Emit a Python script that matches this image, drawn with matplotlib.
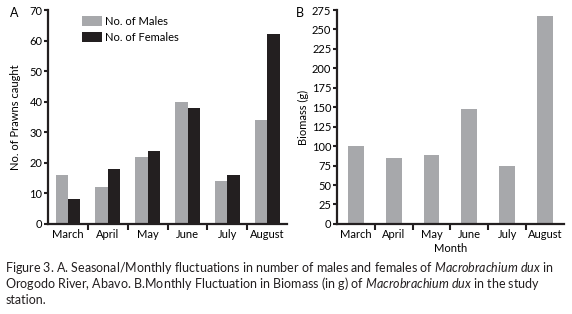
import numpy as np
import matplotlib.pyplot as plt

# data
months = ['March', 'April', 'May', 'June', 'July', 'August']
males = [16, 12, 22, 40, 14, 34]
females = [8, 18, 24, 38, 16, 62]
biomass = [100, 85, 89, 148, 75, 267]

grey = '#a7a8ab'
black = '#231f20'

plt.rcParams['font.family'] = ['Lato', 'DejaVu Sans']
plt.rcParams['mathtext.fontset'] = 'custom'
plt.rcParams['mathtext.rm'] = 'Lato'
plt.rcParams['mathtext.it'] = 'Lato:italic'

fig = plt.figure(figsize=(5.72, 3.14), dpi=100)
axA = fig.add_axes([0.084, 0.287, 0.418, 0.681])
axB = fig.add_axes([0.589, 0.287, 0.397, 0.681])

x = np.arange(len(months))
w = 0.31
axA.bar(x - w / 2, males, w, color=grey, label='No. of Males')
axA.bar(x + w / 2, females, w, color=black, label='No. of Females')
axA.set_ylim(0, 70)
axA.set_yticks(range(0, 71, 10))
axA.set_ylabel('No. of Prawns caught', fontsize=8, labelpad=6)
axA.legend(loc='upper left', bbox_to_anchor=(0.10, 1.02), frameon=False,
           fontsize=8, handlelength=1.8, handleheight=1.0, handletextpad=0.3,
           labelspacing=0.45)

axB.bar(x, biomass, 0.42, color=grey)
axB.set_ylim(0, 275)
axB.set_yticks(range(0, 276, 25))
axB.set_ylabel('Biomass (g)', fontsize=8, labelpad=2)
axB.set_xlabel('Month', fontsize=8, labelpad=2)

for ax in (axA, axB):
    ax.set_xlim(-0.5, 5.5)
    ax.set_xticks(x)
    ax.set_xticklabels(months, fontsize=8)
    ax.set_xticks(x[:-1] + 0.5, minor=True)
    ax.tick_params(axis='x', which='major', length=0, pad=4)
    ax.tick_params(axis='x', which='minor', length=4, width=1.5, color=black)
    ax.tick_params(axis='y', length=3, width=1.5, color=black, labelsize=8, pad=1)
    for s in ('top', 'right'):
        ax.spines[s].set_visible(False)
    for s in ('left', 'bottom'):
        ax.spines[s].set_linewidth(1.6)
        ax.spines[s].set_color(black)

fig.text(0.018, 0.945, 'A', fontsize=9)
fig.text(0.518, 0.945, 'B', fontsize=9)

cap = [
    r'Figure 3. A. Seasonal/Monthly fluctuations in number of males and females of $\mathit{Macrobrachium\ dux}$ in',
    r'Orogodo River, Abavo. B.Monthly Fluctuation in Biomass (in g) of $\mathit{Macrobrachium\ dux}$ in the study',
    'station.',
]
for i, line in enumerate(cap):
    fig.text(0.009, 0.148 - i * 0.051, line, fontsize=9.0, va='center', color=black)

plt.savefig('out.png', dpi=100)
